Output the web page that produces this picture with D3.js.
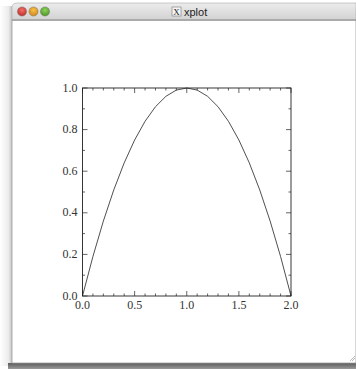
<!DOCTYPE html>
<html>
<head>
<meta charset="utf-8">
<script src="https://cdn.jsdelivr.net/npm/d3@7"></script>
<style>
  html, body { margin: 0; padding: 0; background: #ffffff; }
  svg { display: block; }
</style>
</head>
<body>
<svg id="win" width="356" height="369"></svg>
<script>
// Sampled curve
const xValues = [0.0, 0.1, 0.2, 0.3, 0.4, 0.5, 0.6, 0.7, 0.8, 0.9, 1.0,
                 1.1, 1.2, 1.3, 1.4, 1.5, 1.6, 1.7, 1.8, 1.9, 2.0];
const yValues = [0.00, 0.19, 0.36, 0.51, 0.64, 0.75, 0.84, 0.91, 0.96, 0.99, 1.00,
                 0.99, 0.96, 0.91, 0.84, 0.75, 0.64, 0.51, 0.36, 0.19, 0.00];
const xTickLabels = ["0.0", "0.5", "1.0", "1.5", "2.0"];
const yTickLabels = ["0.0", "0.2", "0.4", "0.6", "0.8", "1.0"];
const windowTitle = "xplot";

const svg = d3.select("#win");
const defs = svg.append("defs");

// ---- window chrome ----
const lg = defs.append("linearGradient").attr("id", "leftShadow")
  .attr("x1", 0).attr("x2", 1).attr("y1", 0).attr("y2", 0);
lg.append("stop").attr("offset", "0%").attr("stop-color", "#ffffff");
lg.append("stop").attr("offset", "70%").attr("stop-color", "#ececec");
lg.append("stop").attr("offset", "100%").attr("stop-color", "#c4c4c4");
svg.append("rect").attr("x", 0).attr("y", 6).attr("width", 12).attr("height", 360)
  .attr("fill", "url(#leftShadow)");

const bg = defs.append("linearGradient").attr("id", "bottomShadow")
  .attr("x1", 0).attr("x2", 0).attr("y1", 0).attr("y2", 1);
bg.append("stop").attr("offset", "0%").attr("stop-color", "#5a5a5a");
bg.append("stop").attr("offset", "100%").attr("stop-color", "#9a9a9a");
svg.append("rect").attr("x", 8).attr("y", 363).attr("width", 348).attr("height", 6)
  .attr("fill", "url(#bottomShadow)");

const tg = defs.append("linearGradient").attr("id", "titleBar")
  .attr("x1", 0).attr("x2", 0).attr("y1", 0).attr("y2", 1);
tg.append("stop").attr("offset", "0%").attr("stop-color", "#ececec");
tg.append("stop").attr("offset", "100%").attr("stop-color", "#d2d2d2");

// content area
svg.append("rect").attr("x", 12).attr("y", 20).attr("width", 344).attr("height", 343)
  .attr("fill", "#ffffff").attr("stroke", "#9c9c9c").attr("stroke-width", 0.8);
// title bar
svg.append("path")
  .attr("d", "M12,20 L12,8 Q12,3 17,3 L356,3 L356,20 Z")
  .attr("fill", "url(#titleBar)").attr("stroke", "#a9a9a9").attr("stroke-width", 0.6);
svg.append("line").attr("x1", 12).attr("x2", 356).attr("y1", 20).attr("y2", 20)
  .attr("stroke", "#8e8e8e").attr("stroke-width", 1);

// traffic-light buttons
const btnColors = [["#f46f68", "#c2332c"], ["#f9c04a", "#d18a1c"], ["#8fd15a", "#4f9a27"]];
btnColors.forEach((c, i) => {
  const g = defs.append("radialGradient").attr("id", "btn" + i)
    .attr("cx", "50%").attr("cy", "35%").attr("r", "60%");
  g.append("stop").attr("offset", "0%").attr("stop-color", c[0]);
  g.append("stop").attr("offset", "100%").attr("stop-color", c[1]);
  svg.append("circle").attr("cx", 22 + i * 11.5).attr("cy", 11.5).attr("r", 4.6)
    .attr("fill", "url(#btn" + i + ")").attr("stroke", "#7a7a7a").attr("stroke-width", 0.5);
});

// title with X icon
svg.append("rect").attr("x", 172).attr("y", 7).attr("width", 9).attr("height", 9)
  .attr("fill", "#f4f4f4").attr("stroke", "#777").attr("stroke-width", 0.6);
svg.append("text").attr("x", 176.5).attr("y", 15).attr("text-anchor", "middle")
  .attr("font-family", "Liberation Serif").attr("font-size", 9).attr("fill", "#222")
  .text("X");
svg.append("text").attr("x", 184).attr("y", 15.5)
  .attr("font-family", "Liberation Sans, Arial, sans-serif").attr("font-size", 11)
  .attr("fill", "#222").text(windowTitle);

// resize grip
svg.append("path").attr("d", "M350,361 L355,356 M352,361 L355,358")
  .attr("stroke", "#999").attr("stroke-width", 0.7);

// ---- plot ----
const box = { left: 82.5, right: 291, top: 88, bottom: 296 };
const x = d3.scaleLinear().domain([0, 2]).range([box.left, box.right]);
const y = d3.scaleLinear().domain([0, 1]).range([box.bottom, box.top]);

const plot = svg.append("g");
const ink = "#222222";

// frame
plot.append("rect").attr("x", box.left).attr("y", box.top)
  .attr("width", box.right - box.left).attr("height", box.bottom - box.top)
  .attr("fill", "none").attr("stroke", ink).attr("stroke-width", 0.9);

// ticks: inward on all four sides
const xMinor = d3.range(0, 21).map(i => i / 10);
const yMinor = d3.range(0, 11).map(i => i / 10);
const isMajorX = v => Math.abs(v * 2 - Math.round(v * 2)) < 1e-6;
const isMajorY = v => Math.abs(v * 5 - Math.round(v * 5)) < 1e-6;

const tickLen = (major) => major ? 5 : 2.5;
xMinor.forEach(v => {
  const L = tickLen(isMajorX(v));
  plot.append("line").attr("x1", x(v)).attr("x2", x(v))
    .attr("y1", box.bottom).attr("y2", box.bottom - L).attr("stroke", ink).attr("stroke-width", 0.7);
  plot.append("line").attr("x1", x(v)).attr("x2", x(v))
    .attr("y1", box.top).attr("y2", box.top + L).attr("stroke", ink).attr("stroke-width", 0.7);
});
yMinor.forEach(v => {
  const L = tickLen(isMajorY(v));
  plot.append("line").attr("x1", box.left).attr("x2", box.left + L)
    .attr("y1", y(v)).attr("y2", y(v)).attr("stroke", ink).attr("stroke-width", 0.7);
  plot.append("line").attr("x1", box.right).attr("x2", box.right - L)
    .attr("y1", y(v)).attr("y2", y(v)).attr("stroke", ink).attr("stroke-width", 0.7);
});

// tick labels
const labelFont = "Liberation Serif, DejaVu Serif, serif";
xTickLabels.forEach(t => {
  plot.append("text").attr("x", x(+t)).attr("y", 308.5).attr("text-anchor", "middle")
    .attr("font-family", labelFont).attr("font-size", 12).attr("fill", "#333").text(t);
});
yTickLabels.forEach(t => {
  plot.append("text").attr("x", 77.5).attr("y", y(+t) + 3.5).attr("text-anchor", "end")
    .attr("font-family", labelFont).attr("font-size", 12).attr("fill", "#333").text(t);
});

// curve
const pts = xValues.map((v, i) => [v, yValues[i]]);
plot.append("path").datum(pts)
  .attr("d", d3.line().x(d => x(d[0])).y(d => y(d[1])))
  .attr("fill", "none").attr("stroke", ink).attr("stroke-width", 0.8);
</script>
</body>
</html>
